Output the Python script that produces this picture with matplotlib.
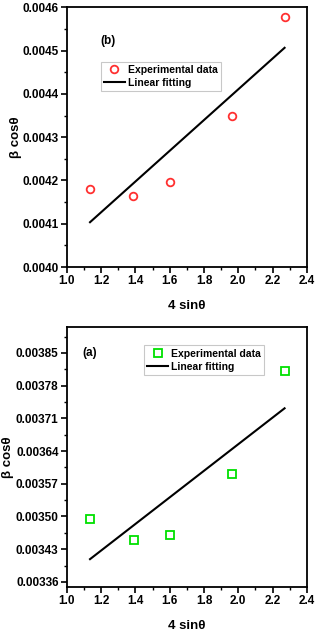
import numpy as np
import matplotlib.pyplot as plt
from matplotlib.ticker import MultipleLocator, FormatStrFormatter

# Datos
x_b = [1.135, 1.385, 1.60, 1.965, 2.27]
y_b = [0.004180, 0.004165, 0.004197, 0.004350, 0.004577]

x_a = [1.135, 1.39, 1.60, 1.965, 2.27]
y_a = [0.003495, 0.003450, 0.003460, 0.003591, 0.003811]

plt.rcParams['font.family'] = ['Liberation Sans', 'DejaVu Sans']
plt.rcParams['font.weight'] = 'bold'

fig = plt.figure(figsize=(3.17, 6.35), dpi=100)
ax_b = fig.add_axes([0.211, 0.5795, 0.757, 0.409])
ax_a = fig.add_axes([0.211, 0.0756, 0.757, 0.409])


def panel(ax, x, y, marker, color, ylim, major, fmt, tag, tagpos, legpos, ylab_x):
    m, b = np.polyfit(x, y, 1)
    xs = np.array([min(x), max(x)])
    ax.plot(x, y, linestyle='none', marker=marker, markersize=5.5,
            markerfacecolor='none', markeredgecolor=color, markeredgewidth=1.3,
            label='Experimental data')
    ax.plot(xs, m * xs + b, color='black', linewidth=1.5, label='Linear fitting')
    ax.set_xlim(1.0, 2.4)
    ax.set_ylim(*ylim)
    ax.xaxis.set_major_locator(MultipleLocator(0.2))
    ax.xaxis.set_minor_locator(MultipleLocator(0.1))
    ax.yaxis.set_major_locator(MultipleLocator(major))
    ax.yaxis.set_minor_locator(MultipleLocator(major / 2))
    ax.xaxis.set_major_formatter(FormatStrFormatter('%.1f'))
    ax.yaxis.set_major_formatter(FormatStrFormatter(fmt))
    ax.tick_params(which='major', direction='out', length=4, width=1.2, labelsize=8.5, pad=2)
    ax.tick_params(which='minor', direction='out', length=2.5, width=1.0)
    for s in ax.spines.values():
        s.set_linewidth(1.3)
    ax.set_xlabel('4 sin\u03b8', fontsize=9.5, fontweight='bold', labelpad=9)
    ax.set_ylabel('\u03b2 cos\u03b8', fontsize=9.5, fontweight='bold')
    ax.yaxis.set_label_coords(ylab_x, 0.5)
    ax.text(tagpos[0], tagpos[1], tag, transform=ax.transAxes, fontsize=8.5, fontweight='bold')
    leg = ax.legend(loc='upper left', bbox_to_anchor=legpos, fontsize=7.5,
                    frameon=True, fancybox=False, handlelength=2.0,
                    borderpad=0.3, labelspacing=0.3, handletextpad=0.3)
    leg.get_frame().set_edgecolor('#bbbbbb')
    leg.get_frame().set_linewidth(0.8)


panel(ax_b, x_b, y_b, 'o', '#ff3030', (0.0040, 0.0046), 0.0001, '%.4f',
      '(b)', (0.14, 0.86), (0.12, 0.81), -0.185)
panel(ax_a, x_a, y_a, 's', '#00e000', (0.003349, 0.003905), 0.00007, '%.5f',
      '(a)', (0.065, 0.89), (0.30, 0.95), -0.222)

fig.savefig('out.png', dpi=100)
